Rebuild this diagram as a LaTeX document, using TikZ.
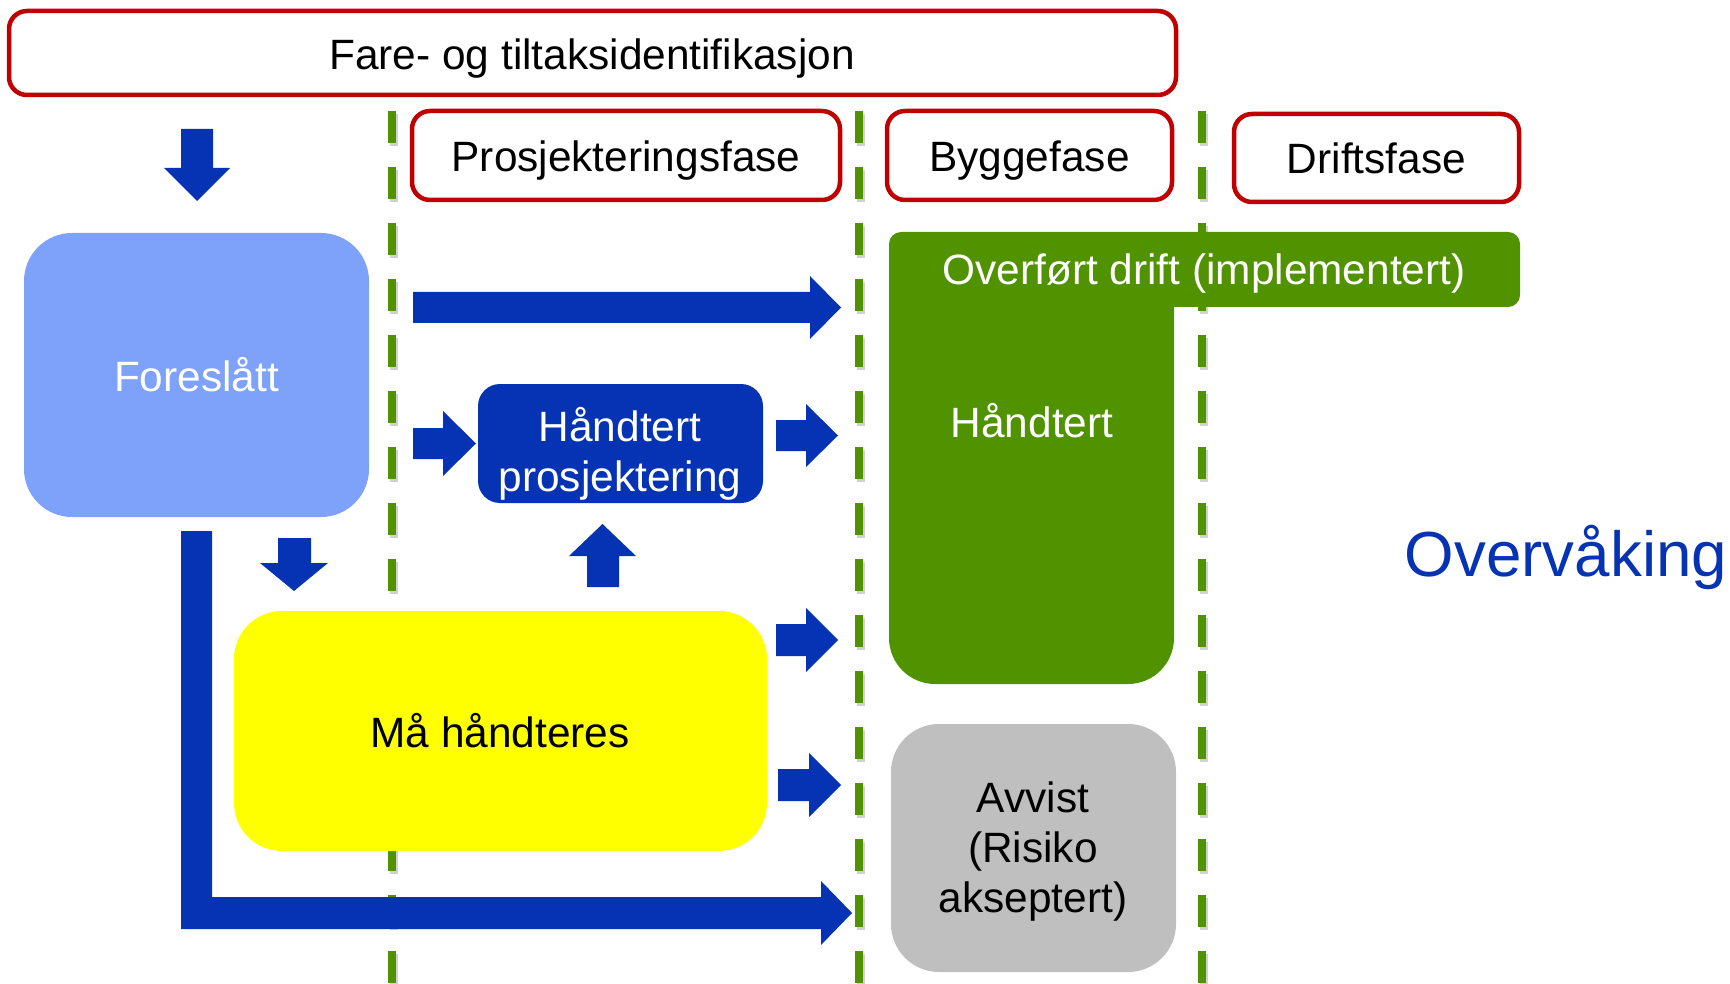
\documentclass[tikz,border=0pt]{standalone}
\usepackage{fontspec}
\setmainfont{Liberation Sans}
\definecolor{fred}{RGB}{192,0,0}
\definecolor{fgreen}{RGB}{80,146,0}
\definecolor{fblue}{RGB}{5,51,179}
\definecolor{flight}{RGB}{126,161,250}
\definecolor{fgray}{RGB}{191,191,191}
\definecolor{fyellow}{RGB}{255,255,0}
\newcommand\myfs{\fontsize{42.4}{50}\selectfont}
\begin{document}
\begin{tikzpicture}[x=1pt,y=-1pt,
  phasebox/.style={draw=fred, line width=4.5pt, rounded corners=18pt, fill=white, inner sep=0pt},
  fillbox/.style={inner sep=0pt, draw=none},
  lbl/.style={font=\myfs, inner sep=0pt, anchor=base, align=center},
  blockarrow/.style={fill=fblue},
  phaseline/.style={draw=fgreen, line width=8pt, dash pattern=on 32pt off 24pt},
  phaseshadow/.style={draw=black, opacity=0.18, line width=8pt, dash pattern=on 32pt off 24pt}
]
\useasboundingbox (0,0) rectangle (1730,984);

% dashed phase lines
\foreach \x in {392,859,1202} {
  \draw[phaseshadow] (\x+2,114) -- (\x+2,987);
  \draw[phaseline] (\x,111) -- (\x,984);
}

% green L-shaped area
\fill[fgreen] (889,470) [rounded corners=12pt] -- (889,232) -- (1520,232) -- (1520,307) -- (1300,307)
  [sharp corners] -- (1174,307) -- (1174,500) [rounded corners=46pt] -- (1174,684) -- (889,684) -- (889,470) -- cycle;

% boxes
\node[fillbox, fill=flight, rounded corners=48pt, minimum width=345pt, minimum height=284pt] (foreslatt) at (196.5,375) {};
\node[fillbox, fill=fblue, rounded corners=22pt, minimum width=285pt, minimum height=119pt] (hp) at (620.5,443.5) {};
\node[fillbox, fill=fyellow, rounded corners=48pt, minimum width=533pt, minimum height=240pt] (mh) at (500.5,731) {};
\node[fillbox, fill=fgray, rounded corners=48pt, minimum width=285pt, minimum height=248pt] (avvist) at (1033.5,848) {};

% phase header boxes
\node[phasebox, minimum width=1167pt, minimum height=84pt] (fare) at (592.5,53) {};
\node[phasebox, minimum width=428pt, minimum height=89pt] (prosj) at (626,155.5) {};
\node[phasebox, minimum width=285pt, minimum height=89pt] (bygg) at (1029.5,155.5) {};
\node[phasebox, minimum width=285pt, minimum height=88pt] (drift) at (1376.5,158) {};

% block arrows
\fill[blockarrow] (181,129) -- (213,129) -- (213,168) -- (230,168) -- (197,201) -- (164,168) -- (181,168) -- cycle;
\fill[blockarrow] (413,292) -- (810,292) -- (810,276) -- (841,307.5) -- (810,339) -- (810,323) -- (413,323) -- cycle;
\fill[blockarrow] (413,428) -- (443,428) -- (443,411) -- (476,443.5) -- (443,476) -- (443,459) -- (413,459) -- cycle;
\fill[blockarrow] (776,420) -- (806,420) -- (806,404) -- (838,435.5) -- (806,467) -- (806,451) -- (776,451) -- cycle;
\fill[blockarrow] (587,587) -- (587,556) -- (569,556) -- (602.5,524) -- (636,556) -- (619,556) -- (619,587) -- cycle;
\fill[blockarrow] (278,538) -- (311,538) -- (311,563) -- (328,563) -- (294,591) -- (260,563) -- (278,563) -- cycle;
\fill[blockarrow] (776,624) -- (806,624) -- (806,608) -- (838,640) -- (806,672) -- (806,656) -- (776,656) -- cycle;
\fill[blockarrow] (778,769) -- (809,769) -- (809,753) -- (841,785) -- (809,817) -- (809,801) -- (778,801) -- cycle;
\fill[blockarrow] (181,531) -- (212,531) -- (212,897) -- (821,897) -- (821,881) -- (852,913) -- (821,945) -- (821,929) -- (181,929) -- cycle;

% texts
\node[lbl] (faretxt) at (592,70) {Fare- og tiltaksidentifikasjon};
\node[lbl] (prosjtxt) at (626,172) {Prosjekteringsfase};
\node[lbl] (byggtxt) at (1029.5,172) {Byggefase};
\node[lbl] (drifttxt) at (1376.5,174) {Driftsfase};
\node[lbl, text=white] (foreslatttxt) at (196.5,391) {Foreslått};
\node[lbl, text=white] (overforttxt) at (1204,285) {Overført drift (implementert)};
\node[lbl, text=white] (handterttxt) at (1032,437) {Håndtert};
\node[lbl, text=white, anchor=center] (hptxt) at (620,454) {Håndtert\\prosjektering};
\node[lbl] (mhtxt) at (500,747) {Må håndteres};
\node[lbl, anchor=center] (avvisttxt) at (1033,852) {Avvist\\(Risiko\\akseptert)};
\node[lbl, font=\fontsize{63.7}{76}\selectfont, text=fblue] (overvaking) at (1566,576) {Overvåking};
\end{tikzpicture}
\end{document}
